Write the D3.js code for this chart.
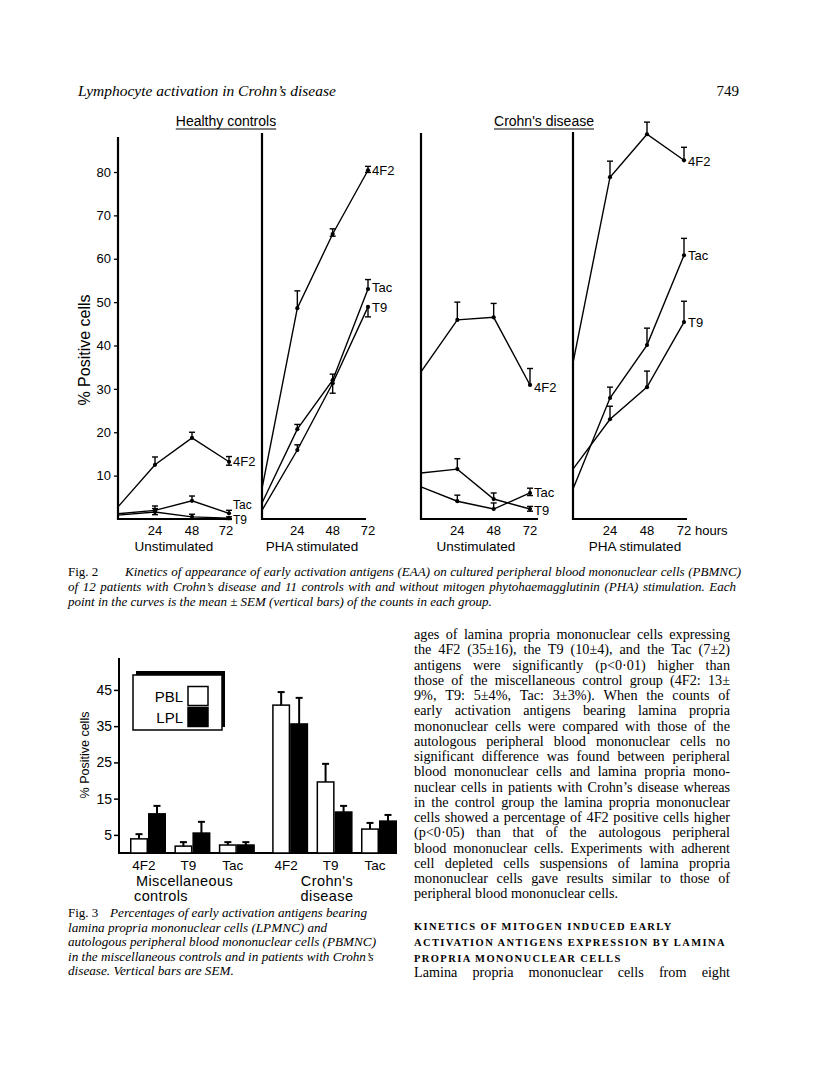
<!DOCTYPE html>
<html><head><meta charset="utf-8">
<script src="https://cdn.jsdelivr.net/npm/d3@7"></script>
<style>body{margin:0;background:#fff} svg{display:block}</style>
</head><body>
<svg id="c" width="816" height="1075"></svg>
<script>
// ---------- Fig. 2 data ----------
const hours = [0, 24, 48, 72];
const xTicks2 = [24, 48, 72];
const yTicks2 = [10, 20, 30, 40, 50, 60, 70, 80];
const panelTitles = ["Unstimulated", "PHA stimulated", "Unstimulated", "PHA stimulated"];
const groupTitles = ["Healthy controls", "Crohn's disease"];
const seriesNames = ["4F2", "Tac", "T9"];

const hcUnstim4F2 = [2.8, 12.5, 18.7, 13.2];
const hcUnstimTac = [1.2, 2.0, 4.2, 1.3];
const hcUnstimT9  = [0.9, 1.6, 0.5, 0.2];
const hcPha4F2    = [7.0, 48.6, 65.7, 80.4];
const hcPhaTac    = [3.7, 20.7, 32.0, 53.0];
const hcPhaT9     = [2.0, 15.9, 31.3, 48.9];
const cdUnstim4F2 = [33.9, 45.9, 46.5, 30.9];
const cdUnstimTac = [7.4, 4.1, 2.3, 6.0];
const cdUnstimT9  = [10.6, 11.5, 4.6, 2.3];
const cdPha4F2    = [36.0, 78.8, 88.7, 82.7];
const cdPhaTac    = [6.9, 27.9, 40.1, 60.8];
const cdPhaT9     = [11.5, 23.0, 30.4, 45.4];

// SEM whiskers (upper, lower)
const hcUnstim4F2Up = [0, 1.8, 1.3, 1.2], hcUnstim4F2Lo = [0, 0, 0, 0.8];
const hcUnstimTacUp = [0, 1.0, 1.1, 0.7], hcUnstimTacLo = [0, 0, 0, 0];
const hcUnstimT9Up  = [0, 0.8, 0.6, 0.3], hcUnstimT9Lo  = [0, 0.6, 0, 0.3];
const hcPha4F2Up    = [0, 4.0, 1.2, 0.9], hcPha4F2Lo    = [0, 0, 0.5, 0.5];
const hcPhaTacUp    = [0, 1.1, 1.4, 2.2], hcPhaTacLo    = [0, 0, 0, 0];
const hcPhaT9Up     = [0, 1.2, 0, 0],     hcPhaT9Lo     = [0, 0, 2.3, 2.3];
const cdUnstim4F2Up = [0, 4.1, 3.2, 3.8], cdUnstim4F2Lo = [0, 0, 0, 0];
const cdUnstimTacUp = [0, 1.4, 1.4, 1.1], cdUnstimTacLo = [0, 0, 0, 0.6];
const cdUnstimT9Up  = [0, 2.4, 1.4, 0.6], cdUnstimT9Lo  = [0, 0, 0, 0.5];
const cdPha4F2Up    = [0, 3.7, 2.8, 3.0], cdPha4F2Lo    = [0, 0, 0, 0];
const cdPhaTacUp    = [0, 2.5, 3.9, 3.9], cdPhaTacLo    = [0, 0, 0, 0];
const cdPhaT9Up     = [0, 3.0, 3.7, 4.8], cdPhaT9Lo     = [0, 0, 0, 0];

// ---------- Fig. 3 data ----------
const fig3Antigens = ["4F2", "T9", "Tac", "4F2", "T9", "Tac"];
const fig3Groups = [["Miscellaneous", "controls"], ["Crohn's", "disease"]];
const fig3Legend = ["PBL", "LPL"];
const pblValues = [3.9, 1.9, 2.2, 40.8, 19.6, 6.6];
const pblSem    = [1.3, 1.1, 0.8, 3.6, 5.0, 1.7];
const lplValues = [10.8, 5.5, 2.2, 35.6, 11.3, 8.8];
const lplSem    = [2.2, 3.1, 0.8, 7.2, 1.7, 1.7];
const yTicks3 = [5, 15, 25, 35, 45];

// ---------- text ----------
const headerText = "Lymphocyte activation in Crohn\u2019s disease";
const pageNumber = "749";
const fig2Caption = [
  "Kinetics of appearance of early activation antigens (EAA) on cultured peripheral blood mononuclear cells (PBMNC)",
  "of 12 patients with Crohn\u2019s disease and 11 controls with and without mitogen phytohaemagglutinin (PHA) stimulation. Each",
  "point in the curves is the mean \u00b1 SEM (vertical bars) of the counts in each group."
];
const fig3Caption = [
  "Percentages of early activation antigens bearing",
  "lamina propria mononuclear cells (LPMNC) and",
  "autologous peripheral blood mononuclear cells (PBMNC)",
  "in the miscellaneous controls and in patients with Crohn\u2019s",
  "disease. Vertical bars are SEM."
];
const bodyText = [
  "ages of lamina propria mononuclear cells expressing",
  "the 4F2 (35\u00b116), the T9 (10\u00b14), and the Tac (7\u00b12)",
  "antigens were significantly (p<0\u00b701) higher than",
  "those of the miscellaneous control group (4F2: 13\u00b1",
  "9%, T9: 5\u00b14%, Tac: 3\u00b13%). When the counts of",
  "early activation antigens bearing lamina propria",
  "mononuclear cells were compared with those of the",
  "autologous peripheral blood mononuclear cells no",
  "significant difference was found between peripheral",
  "blood mononuclear cells and lamina propria mono-",
  "nuclear cells in patients with Crohn\u2019s disease whereas",
  "in the control group the lamina propria mononuclear",
  "cells showed a percentage of 4F2 positive cells higher",
  "(p<0\u00b705) than that of the autologous peripheral",
  "blood mononuclear cells. Experiments with adherent",
  "cell depleted cells suspensions of lamina propria",
  "mononuclear cells gave results similar to those of",
  "peripheral blood mononuclear cells."
];
const headingText = [
  "KINETICS OF MITOGEN INDUCED EARLY",
  "ACTIVATION ANTIGENS EXPRESSION BY LAMINA",
  "PROPRIA MONONUCLEAR CELLS"
];
const bodyText2 = ["Lamina propria mononuclear cells from eight"];

// ================= drawing =================
const svg = d3.select("#c");
const SANS = "'Liberation Sans', Arial, sans-serif";
const SERIF = "'Liberation Serif', 'Times New Roman', serif";

function measure(g, style, str) {
  const t = style(g.append("text").attr("x", 400).attr("y", 500).text(str));
  const w = t.node().getComputedTextLength();
  t.remove();
  return w;
}

function justify(g, str, x0, x1, y, style, doJustify) {
  const words = str.split(" ");
  const nodes = words.map(w => style(g.append("text").attr("y", y)).text(w));
  const widths = nodes.map(n => n.node().getComputedTextLength());
  const total = d3.sum(widths);
  const sp = measure(g, style, "a a") - measure(g, style, "aa");
  const gap = (doJustify && words.length > 1) ? (x1 - x0 - total) / (words.length - 1) : sp;
  let x = x0;
  nodes.forEach((n, i) => { n.attr("x", x); x += widths[i] + gap; });
}

// header
svg.append("text").attr("x", 78).attr("y", 96).attr("font-family", SERIF)
  .attr("font-style", "italic").attr("font-size", 15.5).text(headerText);
svg.append("text").attr("x", 739).attr("y", 96).attr("text-anchor", "end")
  .attr("font-family", SERIF).attr("font-size", 15).text(pageNumber);

// ---------- Fig 2 ----------
const y2 = d3.scaleLinear().domain([0, 80]).range([519, 172]);
// series entries: values, upper SEM, lower SEM, label dy, label size
const panels = [
  {x0: 118, k: 111, xEnd: 232, top: 137, tx: 174, series: [
    [hcUnstim4F2, hcUnstim4F2Up, hcUnstim4F2Lo, 0, 13],
    [hcUnstimTac, hcUnstimTacUp, hcUnstimTacLo, -9, 12],
    [hcUnstimT9, hcUnstimT9Up, hcUnstimT9Lo, 1.5, 12]]},
  {x0: 262, k: 106, xEnd: 366, top: 133, tx: 312, series: [
    [hcPha4F2, hcPha4F2Up, hcPha4F2Lo, 0, 13],
    [hcPhaTac, hcPhaTacUp, hcPhaTacLo, -2, 13],
    [hcPhaT9, hcPhaT9Up, hcPhaT9Lo, 1, 13]]},
  {x0: 421, k: 109, xEnd: 538, top: 133, tx: 476, series: [
    [cdUnstim4F2, cdUnstim4F2Up, cdUnstim4F2Lo, 3, 13],
    [cdUnstimTac, cdUnstimTacUp, cdUnstimTacLo, 0, 13],
    [cdUnstimT9, cdUnstimT9Up, cdUnstimT9Lo, 1, 13]]},
  {x0: 573, k: 111, xEnd: 687, top: 132, tx: 635, series: [
    [cdPha4F2, cdPha4F2Up, cdPha4F2Lo, 1, 13],
    [cdPhaTac, cdPhaTacUp, cdPhaTacLo, 0, 13],
    [cdPhaT9, cdPhaT9Up, cdPhaT9Lo, 0, 13]]}
];

const fig2 = svg.append("g");
panels.forEach((p, pi) => {
  const x = d3.scaleLinear().domain([0, 72]).range([p.x0, p.x0 + p.k]);
  const g = fig2.append("g");
  g.append("line").attr("x1", p.x0).attr("x2", p.x0).attr("y1", p.top).attr("y2", y2(0) + 1)
    .attr("stroke", "#000").attr("stroke-width", 2.2);
  g.append("line").attr("x1", p.x0 - 1).attr("x2", p.xEnd).attr("y1", y2(0)).attr("y2", y2(0))
    .attr("stroke", "#000").attr("stroke-width", 2.2);
  if (pi === 0) {
    const ax = g.append("g").attr("transform", `translate(${p.x0},0)`)
      .call(d3.axisLeft(y2).tickValues(yTicks2).tickSize(4).tickPadding(3));
    ax.select(".domain").remove();
    ax.selectAll("line").attr("stroke-width", 1.3);
    ax.selectAll("text").attr("font-family", SANS).attr("font-size", 13).attr("fill", "#000");
  }
  g.selectAll(".xt").data(xTicks2).join("text")
    .attr("x", d => x(d) - (pi === 0 && d === 72 ? 3 : 0)).attr("y", 535).attr("text-anchor", "middle")
    .attr("font-family", SANS).attr("font-size", 13).text(d => d);
  g.append("text").attr("x", p.tx).attr("y", 551).attr("text-anchor", "middle")
    .attr("font-family", SANS).attr("font-size", 13.5).text(panelTitles[pi]);
  if (pi === 3) {
    g.append("text").attr("x", x(72) + 11).attr("y", 535)
      .attr("font-family", SANS).attr("font-size", 13).text("hours");
  }
  const line = d3.line().x(d => x(d.h)).y(d => y2(d.v));
  p.series.forEach((s, si) => {
    const [vals, up, lo, ldy, lfs] = s;
    const pts = hours.map((h, i) => ({h, v: vals[i], up: up[i], lo: lo[i]}));
    g.append("path").datum(pts).attr("d", line).attr("fill", "none")
      .attr("stroke", "#000").attr("stroke-width", 1.4);
    const pp = pts.filter(d => d.h > 0);
    g.selectAll(null).data(pp).join("circle")
      .attr("cx", d => x(d.h)).attr("cy", d => y2(d.v)).attr("r", 2.1).attr("fill", "#000");
    pp.forEach(d => {
      const xx = x(d.h);
      [[d.up, 1], [d.lo, -1]].forEach(([e, sgn]) => {
        if (e > 0) {
          const ye = y2(d.v + sgn * e);
          g.append("line").attr("x1", xx).attr("x2", xx).attr("y1", y2(d.v)).attr("y2", ye)
            .attr("stroke", "#000").attr("stroke-width", 1.4);
          g.append("line").attr("x1", xx - 3).attr("x2", xx + 3).attr("y1", ye).attr("y2", ye)
            .attr("stroke", "#000").attr("stroke-width", 1.4);
        }
      });
    });
    const last = pts[pts.length - 1];
    g.append("text").attr("x", x(72) + 4).attr("y", y2(last.v) + ldy + 4.5)
      .attr("font-family", SANS).attr("font-size", lfs).text(seriesNames[si]);
  });
});

fig2.append("text").attr("transform", "translate(90,350) rotate(-90)")
  .attr("text-anchor", "middle").attr("font-family", SANS).attr("font-size", 16)
  .text("% Positive cells");

[[226, 126], [544, 126]].forEach((pos, i) => {
  const t = svg.append("text").attr("x", pos[0]).attr("y", pos[1]).attr("text-anchor", "middle")
    .attr("font-family", SANS).attr("font-size", 14).text(groupTitles[i]);
  const w = t.node().getComputedTextLength();
  svg.append("line").attr("x1", pos[0] - w / 2).attr("x2", pos[0] + w / 2)
    .attr("y1", pos[1] + 3).attr("y2", pos[1] + 3).attr("stroke", "#000").attr("stroke-width", 1);
});

// Fig 2 caption
const cap2 = svg.append("g");
cap2.append("text").attr("x", 68).attr("y", 576).attr("font-family", SERIF).attr("font-size", 13).text("Fig. 2");
const italic13 = s => s.attr("font-family", SERIF).attr("font-style", "italic").attr("font-size", 13);
justify(cap2, fig2Caption[0], 125, 741, 576, italic13, true);
justify(cap2, fig2Caption[1], 68, 736, 591, italic13, true);
justify(cap2, fig2Caption[2], 68, 741, 606, italic13, false);

// ---------- Fig 3 ----------
const fig3 = svg.append("g");
const y3 = d3.scaleLinear().domain([0, 53.8]).range([853, 658]);
const xc = d3.scaleLinear().domain([0, 5.2]).range([148, 379]);
const groupPos = [0, 1, 2, 3.2, 4.2, 5.2];
const bw = 18;

fig3.append("line").attr("x1", 119).attr("x2", 119).attr("y1", 658).attr("y2", y3(0) + 1)
  .attr("stroke", "#000").attr("stroke-width", 2);
fig3.append("line").attr("x1", 118).attr("x2", xc(5.2) + bw).attr("y1", y3(0)).attr("y2", y3(0))
  .attr("stroke", "#000").attr("stroke-width", 2);
const ax3 = fig3.append("g").attr("transform", "translate(119,0)")
  .call(d3.axisLeft(y3).tickValues(yTicks3).tickSize(5).tickPadding(2));
ax3.select(".domain").remove();
ax3.selectAll("line").attr("stroke-width", 1.5);
ax3.selectAll("text").attr("font-family", SANS).attr("font-size", 14).attr("fill", "#000");

fig3.append("text").attr("transform", "translate(89,755) rotate(-90)")
  .attr("text-anchor", "middle").attr("font-family", SANS).attr("font-size", 12.5)
  .text("% Positive cells");

function bars(vals, sems, dx, fill) {
  fig3.selectAll(null).data(vals).join("rect")
    .attr("x", (d, i) => xc(groupPos[i]) + dx + 0.75).attr("width", bw - 1.5)
    .attr("y", d => y3(d)).attr("height", d => y3(0) - y3(d))
    .attr("fill", fill).attr("stroke", "#000").attr("stroke-width", 1.5);
  vals.forEach((v, i) => {
    const cx = xc(groupPos[i]) + dx + bw / 2;
    fig3.append("line").attr("x1", cx).attr("x2", cx).attr("y1", y3(v)).attr("y2", y3(v + sems[i]))
      .attr("stroke", "#000").attr("stroke-width", 2);
    fig3.append("line").attr("x1", cx - 3.5).attr("x2", cx + 3.5).attr("y1", y3(v + sems[i])).attr("y2", y3(v + sems[i]))
      .attr("stroke", "#000").attr("stroke-width", 2);
  });
}
bars(pblValues, pblSem, -bw, "#fff");
bars(lplValues, lplSem, 0, "#000");

fig3.selectAll(null).data(fig3Antigens).join("text")
  .attr("x", (d, i) => xc(groupPos[i]) - 4).attr("y", 870).attr("text-anchor", "middle")
  .attr("font-family", SANS).attr("font-size", 13.5).text(d => d);
const gl = [[136, "start"], [327, "middle"]];
fig3Groups.forEach((lines, gi) => {
  lines.forEach((t, li) => {
    fig3.append("text").attr("x", gl[gi][0] - (gi === 0 && li === 1 ? 2 : 0)).attr("y", 886 + li * 15)
      .attr("text-anchor", gl[gi][1]).attr("font-family", SANS).attr("font-size", 14.5)
      .attr("letter-spacing", 0.4).text(t);
  });
});

// legend
fig3.append("rect").attr("x", 136).attr("y", 671).attr("width", 89).attr("height", 56).attr("fill", "#000");
fig3.append("rect").attr("x", 133).attr("y", 675).attr("width", 89).attr("height", 55)
  .attr("fill", "#fff").attr("stroke", "#000").attr("stroke-width", 1.5);
fig3Legend.forEach((t, i) => {
  const yy = 696 + i * 21;
  fig3.append("text").attr("x", 183).attr("y", yy + 5.5).attr("text-anchor", "end")
    .attr("font-family", SANS).attr("font-size", 15).text(t);
  fig3.append("rect").attr("x", 188).attr("y", yy - 9.5).attr("width", 20).attr("height", 19)
    .attr("fill", i === 0 ? "#fff" : "#000").attr("stroke", "#000").attr("stroke-width", 1.5);
});

// Fig 3 caption
const cap3 = svg.append("g");
cap3.append("text").attr("x", 68).attr("y", 917).attr("font-family", SERIF).attr("font-size", 13).text("Fig. 3");
fig3Caption.forEach((t, i) => {
  cap3.append("text").attr("x", i === 0 ? 110 : 68).attr("y", 917 + i * 14.5)
    .attr("font-family", SERIF).attr("font-style", "italic").attr("font-size", 13.2).text(t);
});

// ---------- right column text ----------
const body = svg.append("g");
const roman14 = s => s.attr("font-family", SERIF).attr("font-size", 14.2);
bodyText.forEach((t, i) => {
  justify(body, t, 414, 730, 639 + i * 15.25, roman14, i < bodyText.length - 1);
});
headingText.forEach((t, i) => {
  body.append("text").attr("x", 414).attr("y", 930 + i * 16)
    .attr("font-family", SERIF).attr("font-size", 10.5).attr("font-weight", "bold")
    .attr("letter-spacing", 1.4).text(t);
});
justify(body, bodyText2[0], 414, 730, 977, roman14, true);
</script>
</body></html>
